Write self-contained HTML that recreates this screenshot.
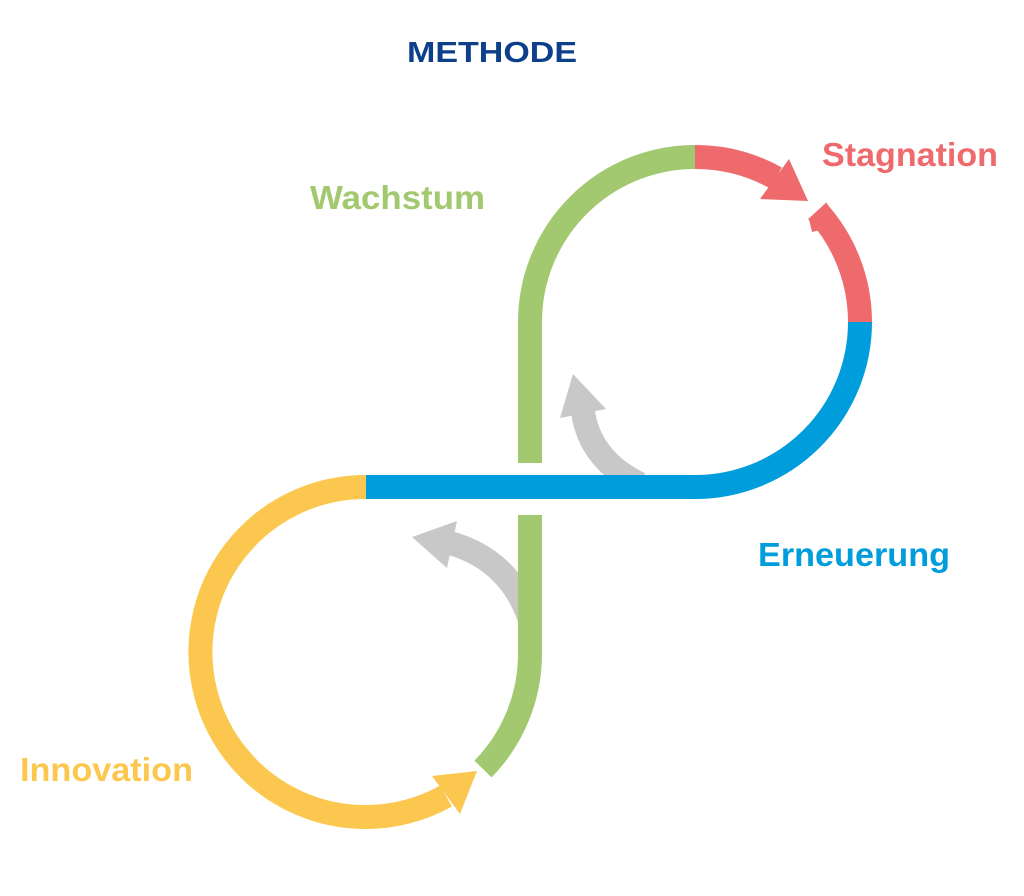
<!DOCTYPE html>
<html><head><meta charset="utf-8"><style>
html,body{margin:0;padding:0;background:#fff;}
svg{display:block}
text{font-family:"Liberation Sans",sans-serif;font-weight:bold;}
</style></head><body>
<svg width="1024" height="896" viewBox="0 0 1024 896" xmlns="http://www.w3.org/2000/svg">
<text x="407" y="62" font-size="29" fill="#0d3f8a" textLength="170" lengthAdjust="spacingAndGlyphs">METHODE</text>
<text x="822" y="166" font-size="33" fill="#ee6a6c" textLength="176" lengthAdjust="spacingAndGlyphs">Stagnation</text>
<text x="310" y="209" font-size="33" fill="#a2c96f" textLength="175" lengthAdjust="spacingAndGlyphs">Wachstum</text>
<text x="758" y="566" font-size="33" fill="#009ddc" textLength="192" lengthAdjust="spacingAndGlyphs">Erneuerung</text>
<text x="20" y="781" font-size="33" fill="#fcc74f" textLength="173" lengthAdjust="spacingAndGlyphs">Innovation</text>

<g fill="none" stroke-width="24" stroke-linecap="butt">
<path d="M640 484 Q590 460 583 412" stroke="#c8c8c8" stroke-width="24"/>
<path d="M530 620 Q510 560 450 543" stroke="#c8c8c8" stroke-width="24"/>
<path d="M530 463 L530 322 A165 165 0 0 1 695 157" stroke="#a2c96f"/>
<path d="M695 157 A165 165 0 0 1 776 178" stroke="#ee6a6c"/>
<path d="M817 211 A165 165 0 0 1 860 322" stroke="#ee6a6c"/>
<path d="M860 322 A165 165 0 0 1 695 487 L366 487" stroke="#009ddc"/>
<path d="M366 487 A165 165 0 1 0 446 796" stroke="#fcc74f"/>
<path d="M483 769 A165 165 0 0 0 530 652 L530 515" stroke="#a2c96f"/>
</g>
<rect x="518" y="515" width="24" height="140" fill="#a2c96f"/>
<polygon points="760,199 789,159 808,201" fill="#ee6a6c"/>
<polygon points="809,219 824,210 826,202 840,225 812,232" fill="#ee6a6c"/>
<polygon points="432,776 477,771 460,814" fill="#fcc74f"/>
<polygon points="573,374 606,409 560,418" fill="#c8c8c8"/>
<polygon points="412,537 457,521 447,568" fill="#c8c8c8"/>
</svg>
</body></html>
